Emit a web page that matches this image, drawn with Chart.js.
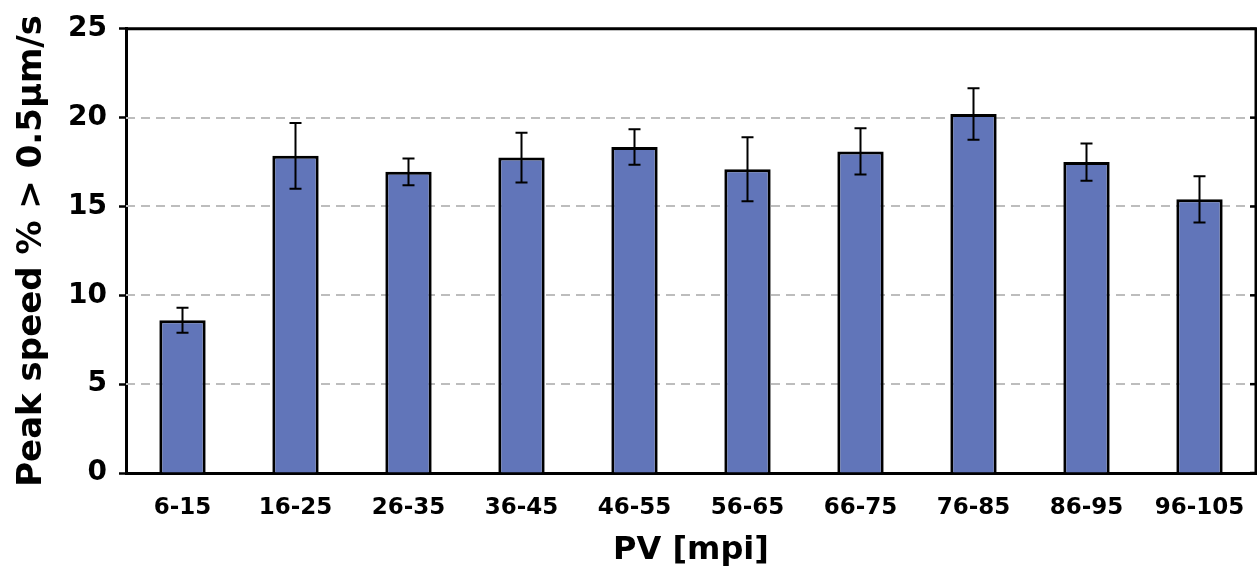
<!DOCTYPE html>
<html lang="en">
<head>
    <meta charset="UTF-8">
    <title>Peak speed by PV</title>
    <script src="https://cdn.jsdelivr.net/npm/chart.js"></script>
    <style>
        html, body { margin: 0; padding: 0; background: #fff; }
        #wrap { width: 1257px; height: 577px; }
    </style>
</head>
<body>
    <div id="wrap"><canvas id="chart" width="1257" height="577"></canvas></div>

    <script>
        const categories = ['6-15', '16-25', '26-35', '36-45', '46-55', '56-65', '66-75', '76-85', '86-95', '96-105'];
        const peakSpeed = [8.6, 17.85, 16.95, 17.75, 18.35, 17.1, 18.1, 20.2, 17.5, 15.4];
        const errorSize = [0.7, 1.85, 0.75, 1.4, 1.0, 1.8, 1.3, 1.45, 1.05, 1.3];
        const yTicks = [0, 5, 10, 15, 20, 25];

        const FONT = "'DejaVu Sans', Verdana, sans-serif";

        // dashed grid, error bars and the box around the plot
        const extras = {
            id: 'extras',
            beforeDatasetsDraw(chart) {
                const ctx = chart.ctx;
                const area = chart.chartArea;
                const y = chart.scales.y;
                ctx.save();
                ctx.strokeStyle = '#bdbdbd';
                ctx.lineWidth = 2;
                ctx.setLineDash([9, 6]);
                yTicks.forEach(v => {
                    if (v === 0 || v === 25) return;
                    const py = Math.round(y.getPixelForValue(v));
                    ctx.beginPath();
                    ctx.moveTo(area.left, py);
                    ctx.lineTo(area.right, py);
                    ctx.stroke();
                });
                ctx.restore();
            },
            afterDatasetsDraw(chart) {
                const ctx = chart.ctx;
                const y = chart.scales.y;
                const meta = chart.getDatasetMeta(0);
                ctx.save();
                ctx.strokeStyle = '#000';
                ctx.lineWidth = 2;
                meta.data.forEach((bar, i) => {
                    const hi = y.getPixelForValue(peakSpeed[i] + errorSize[i]);
                    const lo = y.getPixelForValue(peakSpeed[i] - errorSize[i]);
                    ctx.beginPath();
                    ctx.moveTo(bar.x, hi);
                    ctx.lineTo(bar.x, lo);
                    ctx.moveTo(bar.x - 6, hi);
                    ctx.lineTo(bar.x + 6, hi);
                    ctx.moveTo(bar.x - 6, lo);
                    ctx.lineTo(bar.x + 6, lo);
                    ctx.stroke();
                });
                ctx.restore();
            },
            afterDraw(chart) {
                const ctx = chart.ctx;
                const area = chart.chartArea;
                const y = chart.scales.y;
                ctx.save();
                ctx.strokeStyle = '#000';
                ctx.lineWidth = 3;
                ctx.beginPath();
                ctx.moveTo(area.left, area.top);
                ctx.lineTo(area.right, area.top);
                ctx.lineTo(area.right, area.bottom);
                ctx.stroke();
                // little inward ticks on the right side
                ctx.lineWidth = 2.5;
                yTicks.forEach(v => {
                    const py = y.getPixelForValue(v);
                    ctx.beginPath();
                    ctx.moveTo(area.right - 6, py);
                    ctx.lineTo(area.right, py);
                    ctx.stroke();
                });
                ctx.restore();
            }
        };

        new Chart(document.getElementById('chart'), {
            type: 'bar',
            data: {
                labels: categories,
                datasets: [{
                    data: peakSpeed,
                    backgroundColor: '#6175b9',
                    borderColor: '#000',
                    borderWidth: 3,
                    barPercentage: 0.41,
                    categoryPercentage: 1.0
                }]
            },
            options: {
                responsive: false,
                animation: false,
                layout: { padding: { top: 27, right: 1, left: 0, bottom: 0 } },
                plugins: {
                    legend: { display: false },
                    tooltip: { enabled: false }
                },
                scales: {
                    x: {
                        grid: { display: true, drawOnChartArea: false, drawTicks: false },
                        border: { color: '#000', width: 3 },
                        ticks: {
                            color: '#000',
                            padding: 21,
                            maxRotation: 0,
                            autoSkip: false,
                            font: { family: FONT, size: 23, weight: 'bold' }
                        },
                        title: {
                            display: true,
                            text: 'PV [mpi]',
                            color: '#000',
                            padding: { top: 0, bottom: 7 },
                            font: { family: FONT, size: 32, weight: 'bold' }
                        },
                        afterFit(scale) {
                            scale.height = 104;
                            scale.paddingLeft = 0;
                            scale.paddingRight = 0;
                        }
                    },
                    y: {
                        min: 0,
                        max: 25,
                        ticks: {
                            stepSize: 5,
                            color: '#000',
                            padding: 12,
                            font: { family: FONT, size: 28, weight: 'bold' }
                        },
                        grid: {
                            drawOnChartArea: false,
                            tickLength: 7,
                            tickColor: '#000',
                            tickWidth: 2.5
                        },
                        border: { color: '#000', width: 3 },
                        title: {
                            display: true,
                            text: 'Peak speed % > 0.5μm/s',
                            color: '#000',
                            padding: { top: 12, bottom: 0 },
                            font: { family: FONT, size: 34, weight: 'bold' }
                        },
                        afterFit(scale) { scale.width = 126; }
                    }
                }
            },
            plugins: [extras]
        });
    </script>
</body>
</html>
